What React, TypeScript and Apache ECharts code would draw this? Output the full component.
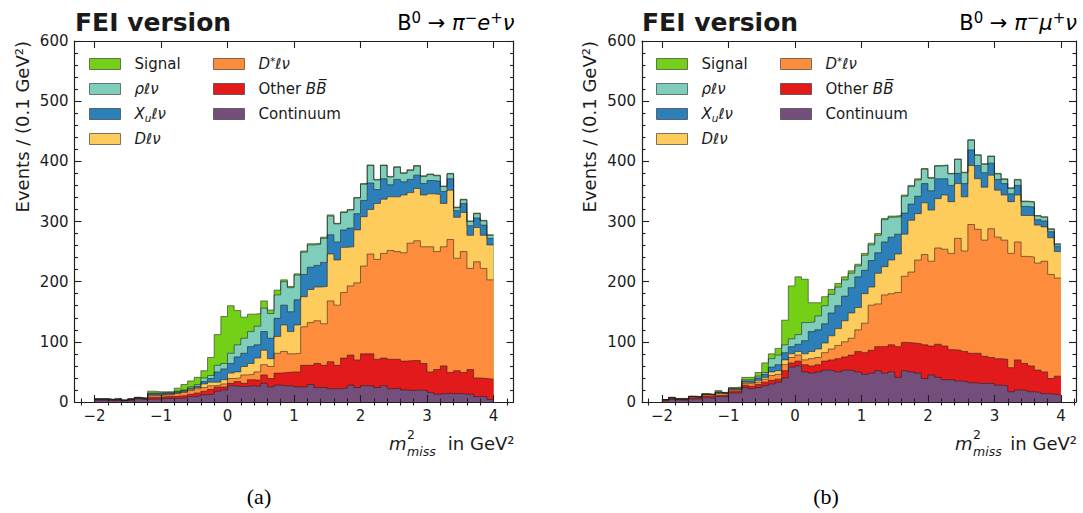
import React, { useEffect, useRef } from "react";
import * as echarts from "echarts";

const FONT = "'DejaVu Sans', 'Noto Sans', sans-serif";
const SERIF = "'Liberation Serif', 'DejaVu Serif', serif";
const AX = "#1f1f1f";
const EDGE = "rgba(30,30,30,0.55)";

// bin edges of m^2_miss (GeV^2), 60 bins of 0.1
const BIN_EDGES = [-2.0,-1.9,-1.8,-1.7,-1.6,-1.5,-1.4,-1.3,-1.2,-1.1,-1.0,-0.9,-0.8,-0.7,-0.6,-0.5,-0.4,-0.3,-0.2,-0.1,0.0,0.1,0.2,0.3,0.4,0.5,0.6,0.7,0.8,0.9,1.0,1.1,1.2,1.3,1.4,1.5,1.6,1.7,1.8,1.9,2.0,2.1,2.2,2.3,2.4,2.5,2.6,2.7,2.8,2.9,3.0,3.1,3.2,3.3,3.4,3.5,3.6,3.7,3.8,3.9,4.0];
const X_MAJOR = [-2, -1, 0, 1, 2, 3, 4];
const X_MINOR = [-2.2,-1.8,-1.6,-1.4,-1.2,-0.8,-0.6,-0.4,-0.2,0.2,0.4,0.6,0.8,1.2,1.4,1.6,1.8,2.2,2.4,2.6,2.8,3.2,3.4,3.6,3.8,4.2];

// ---- panel (a): B0 -> pi- e+ nu ----
const continuumA = [3,3,2,3,2,3,5,4, 5,5,6,6,6,7,9,10, 12,13,18,20,27,26,26,27,26,31,25,28,27,27, 25,25,29,24,24,22,22,23,28,24,27,27,24,27,22,23,20,19,20,19,16,13,14,14,14,13,13,9,9,4];
const otherBBA = [1,1,1,1,0,1,1,1, 3,3,3,3,4,4,4,5, 6,8,7,5,4,8,5,10,10,14,14,20,22,23, 25,36,32,40,37,45,39,50,50,46,53,53,47,46,49,48,48,50,49,45,34,41,46,35,38,36,41,31,30,34];
const dstarA = [1,1,1,1,1,1,1,1, 3,3,3,3,4,5,6,7, 6,6,3,5,8,6,14,9,14,17,20,33,35,30, 31,64,71,71,69,101,100,109,115,128,146,166,166,174,181,179,180,195,199,194,208,196,198,221,187,201,168,193,183,165];
const dA = [0,0,0,0,0,0,0,0, 1,1,1,1,1,1,2,2, 6,6,5,7,9,10,14,18,23,24,13,28,44,37, 47,50,55,56,62,78,75,75,65,88,82,74,93,90,89,91,96,84,87,86,88,95,72,82,68,65,55,57,55,58];
const xuA = [0,0,0,0,0,0,0,0, 2,2,2,2,2,2,2,2, 4,6,17,18,16,25,22,28,22,31,34,30,33,33, 42,37,37,36,40,32,30,29,31,27,27, 44,23,34,20,29,22,22,22,19, 22,22,20,19,11,15,16,16,17,11];
const rhoA = [0,0,0,0,0,0,0,0, 1,1,1,1,1,1,2,3, 6,5,11,9,17,20,25,25,31,39,41,39,39,40, 41,37,37,35,40,31,30,29,30,26,27, 29,16,22,13,20,14,15,15,12, 10,9,8,8,5,6,7,7,7,5];
const signalA = [0,0,0,1,0,0,1,0, 3,2,1,1,5,9,10,12, 12,30,51,78,79,57,35,29,21,12,6,8,3,2, 2,2,2,2,2,2,1,1,1,1,1,1,1,1,1,1,1,1,1,1,1,1,1,1,1,1,1,1,1,1];

// ---- panel (b): B0 -> pi- mu+ nu ----
const continuumB = [2,4,3,3,5,5,7,6,9,9,15,15, 24,22,24,27, 30,33,40,58,60,50,48,50,53,52,50,53,52,50,46, 48,52,48,50,41,52,50,48,39,45,41,37,37,35,34,32,31,31,31,28,27,17,20,19,17,16,14,13,12];
const otherBBB = [1,2,1,1,2,2,3,3,2,2,3,3, 4,4,5,6, 6,5,12,7,8,12,12,12,15,18,22,22,26,34,36, 38,40,44,45,51,47,48,49,56,48,55,56,50,51,50,49,50,45,43,44,44,40,50,45,43,37,36,26,31];
const dstarB = [1,1,1,1,2,1,2,2,3,2,2,2, 3,4,4,5, 8,8,10,9,10,8,12,12,14,18,22,25,28,36,49, 75,71,86,85,90,110,118,139,150,141,160,161,160,186,167,214,206,193,214,202,198,190,196,178,181,178,184,173,163];
const dB = [0,0,0,0,0,0,1,1,1,1,1,1, 2,2,3,3, 6,6,8,6,6,10,12,14,16,22,28,35,42,37,49, 30,51,47,56,64,70,86,77,86,85,82,90,86,91,90,98,84,88,89,78,75,86,78,68,69,63,57,61,44];
const xuB = [0,0,0,0,0,0,0,0,1,1,1,1, 2,3,4,5, 8,10,12,12,12,22,33,32,32,38,38,41,42,51,39, 44,34,41,38,33,35,27,29,32,32,33,27,27,17,22,26,22,24,20,18,19,13,16,15,14,9,10,10,9];
const rhoB = [0,0,0,0,0,0,0,0,1,0,1,1, 2,2,3,3, 14,16,13,13,16,30,16,23,30,31,31,27,24,18,25, 26,29,37,33,29,28,29,27,24,21,21,22,19,23,18,16,17,14,11,9,7,9,9,8,8,6,6,4,3];
const signalB = [0,1,1,1,1,1,1,1,2,1,1,2, 4,4,6,16, 8,11,41,88,96,72,32,22,15,8,6,5,4,3,3, 3,3,2,2,2,2,2,2,1,1,1,1,1,1,1,1,1,1,1,1,1,1,1,1,1,1,1,1,1];

// stacking order, bottom to top
const COMPONENTS = ["Continuum", "OtherBB", "Dstar", "D", "Xu", "rho", "Signal"];
const COLORS: Record<string, string> = {
  Signal: "#74d017",
  rho: "#7fcdbb",
  Xu: "#2c7fb8",
  D: "#fecc5c",
  Dstar: "#fd8d3c",
  OtherBB: "#e31a1c",
  Continuum: "#744f7b",
};
const LEGEND_TEXT: Record<string, string> = {
  Signal: "Signal",
  rho: "{i|ρℓν}",
  Xu: "{i|X}{sub|u}{i|ℓν}",
  D: "{i|Dℓν}",
  Dstar: "{i|D}{sup|*}{i|ℓν}",
  OtherBB: "Other {i|BB\u0305}",
  Continuum: "Continuum",
};
const LEGEND_COL1 = ["Signal", "rho", "Xu", "D"];
const LEGEND_COL2 = ["Dstar", "OtherBB", "Continuum"];

const PANELS = [
  {
    left: 74.5, width: 439, xMax: 4.3, off: 0, caption: "(a)",
    decay: "{n|B}{s|0}{n| → }{i|π}{s|−}{i|e}{s|+}{i|ν}",
    values: { Continuum: continuumA, OtherBB: otherBBA, Dstar: dstarA, D: dA, Xu: xuA, rho: rhoA, Signal: signalA } as Record<string, number[]>,
  },
  {
    left: 642, width: 434, xMax: 4.226, off: 567, caption: "(b)",
    decay: "{n|B}{s|0}{n| → }{i|π}{s|−}{i|μ}{s|+}{i|ν}",
    values: { Continuum: continuumB, OtherBB: otherBBB, Dstar: dstarB, D: dB, Xu: xuB, rho: rhoB, Signal: signalB } as Record<string, number[]>,
  },
];

// histogram step points: value of bin i held from its left edge to the next edge
function stepData(vals: number[]) {
  const d = vals.map((v, i) => [BIN_EDGES[i], v]);
  d.push([BIN_EDGES[vals.length], vals[vals.length - 1]]);
  return d;
}

// cumulative top of each component (stacked histogram)
function cumulative(values: Record<string, number[]>) {
  const out: Record<string, number[]> = {};
  let run = values[COMPONENTS[0]].map(() => 0);
  for (const c of COMPONENTS) {
    run = run.map((r, i) => r + values[c][i]);
    out[c] = run.slice();
  }
  return out;
}

const fmtX = (v: number) => (v < 0 ? "\u2212" + Math.abs(v) : String(v));

function buildOption() {
  const grid: any[] = [];
  const xAxis: any[] = [];
  const yAxis: any[] = [];
  const series: any[] = [];
  const legend: any[] = [];
  const graphic: any[] = [];
  const tickLine = { color: AX, width: 1.1 };

  PANELS.forEach((p, g) => {
    grid.push({ left: p.left, top: 41, width: p.width, height: 361, show: false });
    const xBase = {
      gridIndex: g, type: "value", min: -2.3, max: p.xMax, z: 5,
      splitLine: { show: false }, minorTick: { show: false },
      axisLine: { show: false }, axisLabel: { show: false }, axisTick: { show: false },
    };
    const lineOn = { show: true, onZero: false, lineStyle: { color: AX, width: 1.2 } };
    for (const pos of ["bottom", "top"]) {
      xAxis.push({
        ...xBase, position: pos, axisLine: lineOn,
        axisTick: { show: true, inside: true, length: 7, customValues: X_MAJOR, lineStyle: tickLine },
        axisLabel: pos === "bottom"
          ? { show: true, customValues: X_MAJOR, formatter: fmtX, fontSize: 15, color: "#1a1a1a", margin: 6, fontFamily: FONT }
          : { show: false },
      });
      xAxis.push({
        ...xBase, position: pos,
        axisTick: { show: true, inside: true, length: 3.5, customValues: X_MINOR, lineStyle: tickLine },
      });
    }
    for (const pos of ["left", "right"]) {
      yAxis.push({
        gridIndex: g, type: "value", min: 0, max: 600, interval: 100, position: pos, z: 5,
        axisLine: lineOn,
        axisTick: { show: true, inside: true, length: 7, lineStyle: tickLine },
        minorTick: { show: true, splitNumber: 5, length: 3.5, lineStyle: tickLine },
        splitLine: { show: false }, minorSplitLine: { show: false },
        axisLabel: pos === "left"
          ? { show: true, fontSize: 15, color: "#1a1a1a", margin: 6, fontFamily: FONT }
          : { show: false },
      });
    }
    const cum = cumulative(p.values);
    // draw from the top layer down, each filled to zero, so lower layers cover upper fills
    [...COMPONENTS].reverse().forEach((c) => {
      series.push({
        type: "line", name: c, xAxisIndex: g * 4, yAxisIndex: g * 2,
        step: "end", symbol: "none", showSymbol: false, silent: true,
        data: stepData(cum[c]),
        lineStyle: { color: EDGE, width: 1 },
        itemStyle: { color: COLORS[c] },
        areaStyle: { color: COLORS[c], opacity: 1 },
        emphasis: { disabled: true },
      });
    });
    const legendBase = {
      orient: "vertical", top: 55, padding: 0, itemWidth: 31, itemHeight: 11, itemGap: 7,
      selectedMode: false, icon: "rect",
      itemStyle: { borderColor: "rgba(40,40,40,0.6)", borderWidth: 1 },
      formatter: (n: string) => LEGEND_TEXT[n],
      textStyle: {
        fontSize: 15, fontFamily: FONT, color: "#1a1a1a", lineHeight: 18, padding: [0, 0, 0, 9],
        rich: {
          i: { fontSize: 15, fontFamily: FONT, fontStyle: "italic", lineHeight: 18, color: "#1a1a1a" },
          sub: { fontSize: 10.5, fontFamily: FONT, fontStyle: "italic", lineHeight: 10, verticalAlign: "bottom", color: "#1a1a1a" },
          sup: { fontSize: 10.5, fontFamily: FONT, lineHeight: 10, verticalAlign: "top", color: "#1a1a1a" },
        },
      },
    };
    legend.push({ ...legendBase, left: 89 + p.off, data: LEGEND_COL1.map((n) => ({ name: n, itemStyle: { color: COLORS[n] } })) });
    legend.push({ ...legendBase, left: 213 + p.off, data: LEGEND_COL2.map((n) => ({ name: n, itemStyle: { color: COLORS[n] } })) });

    const right = p.left + p.width;
    const t = (x: number, y: number, text: string, font: string, align = "left", extra: any = {}) => ({
      type: "text", x, y, ...extra,
      style: { text, font, fill: "#1a1a1a", align, verticalAlign: "middle", textAlign: align, textVerticalAlign: "middle" },
    });
    graphic.push(
      t(75 + p.off, 22, "FEI version", `bold 25px ${FONT}`),
      {
        type: "text", x: right + 1, y: 23,
        style: {
          text: p.decay, fill: "#000", align: "right", verticalAlign: "middle", textAlign: "right", textVerticalAlign: "middle",
          rich: {
            n: { fontSize: 21, fontFamily: FONT, lineHeight: 25 },
            i: { fontSize: 21, fontFamily: FONT, fontStyle: "italic", lineHeight: 25 },
            s: { fontSize: 15, fontFamily: FONT, lineHeight: 15, verticalAlign: "top" },
          },
        },
      },
      t(22 + p.off, 41, "Events / (0.1 GeV²)", `18px ${FONT}`, "right", { rotation: Math.PI / 2 }),
      t(389 + p.off - (p.off ? 1 : 0), 443, "m", `italic 18px ${FONT}`),
      t(407 + p.off - (p.off ? 1 : 0), 434, "2", `12.5px ${FONT}`),
      t(407 + p.off - (p.off ? 1 : 0), 451, "miss", `italic 12.5px ${FONT}`),
      t(right + 1, 443, "in GeV²", `18px ${FONT}`, "right"),
      { type: "text", x: 259 + p.off, y: 496, style: { text: p.caption, font: `22px ${SERIF}`, fill: "#000", align: "center", verticalAlign: "middle", textAlign: "center", textVerticalAlign: "middle" } },
    );
  });

  return {
    animation: false,
    backgroundColor: "#ffffff",
    textStyle: { fontFamily: FONT },
    grid, xAxis, yAxis, series, legend, graphic,
  };
}

export default function App() {
  const ref = useRef<HTMLDivElement>(null);
  useEffect(() => {
    if (!ref.current) return;
    const chart = echarts.init(ref.current, undefined, { renderer: "svg" });
    chart.setOption(buildOption() as any);
    return () => chart.dispose();
  }, []);
  return (
    <div
      ref={ref}
      style={{ position: "fixed", left: 0, top: 0, width: 1083, height: 513, background: "#fff" }}
    />
  );
}
